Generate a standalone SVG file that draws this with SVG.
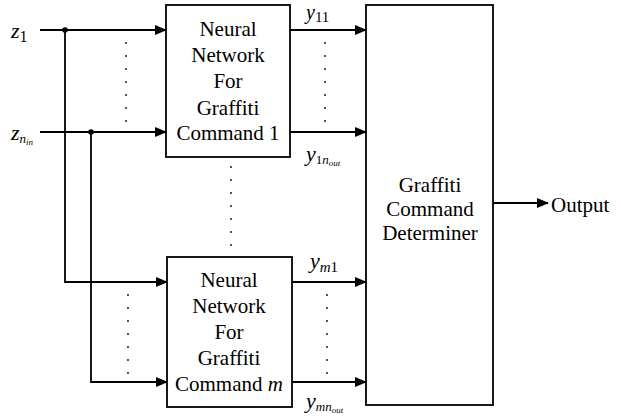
<svg xmlns="http://www.w3.org/2000/svg" width="621" height="417" viewBox="0 0 621 417">
<defs>
<marker id="arr" markerWidth="12" markerHeight="10" refX="11" refY="5" orient="auto" markerUnits="userSpaceOnUse">
<path d="M0,0 L12,5 L0,10 Z" fill="#000"/>
</marker>
<style>
.box{fill:#fff;stroke:#000;stroke-width:1.8}
.ln{fill:none;stroke:#000;stroke-width:1.8}
.dot{fill:none;stroke:#000;stroke-width:1.8;stroke-linecap:round;stroke-dasharray:0 13}
.t{font-family:"Liberation Serif","Times New Roman",serif;font-size:21px;fill:#000;text-anchor:middle}
.v{font-family:"Liberation Serif","Times New Roman",serif;font-size:22px;fill:#000;font-style:italic}
.s{font-style:normal}
</style>
</defs>
<rect width="621" height="417" fill="#fff"/>
<g id="connectors">
<path class="ln" d="M40,30 H166" marker-end="url(#arr)"/>
<path class="ln" d="M40,132 H166" marker-end="url(#arr)"/>
<path class="ln" d="M65,30 V282 H167" marker-end="url(#arr)"/>
<path class="ln" d="M91,132 V382 H167" marker-end="url(#arr)"/>
<circle cx="65" cy="30" r="2.8" fill="#000"/>
<circle cx="91" cy="132" r="2.8" fill="#000"/>
<path class="ln" d="M290,30 H366" marker-end="url(#arr)"/>
<path class="ln" d="M290,132 H366" marker-end="url(#arr)"/>
<path class="ln" d="M292,282 H366" marker-end="url(#arr)"/>
<path class="ln" d="M292,382 H366" marker-end="url(#arr)"/>
<path class="ln" d="M493,203 H548" marker-end="url(#arr)"/>
<path class="dot" d="M126,43 V122"/>
<path class="dot" d="M128,295 V374"/>
<path class="dot" d="M325,43 V122"/>
<path class="dot" d="M327,295 V374"/>
<path class="dot" d="M231,167 V246"/>
</g>
<g id="nn1">
<rect class="box" x="166" y="5" width="124" height="152"/>
<text class="t" x="228" y="36">Neural</text>
<text class="t" x="228" y="62">Network</text>
<text class="t" x="228" y="88">For</text>
<text class="t" x="228" y="115">Graffiti</text>
<text class="t" x="228" y="140">Command 1</text>
</g>
<g id="nnm">
<rect class="box" x="167" y="257" width="125" height="150"/>
<text class="t" x="229" y="287">Neural</text>
<text class="t" x="229" y="313">Network</text>
<text class="t" x="229" y="339">For</text>
<text class="t" x="229" y="365">Graffiti</text>
<text class="t" x="229" y="391">Command <tspan font-style="italic">m</tspan></text>
</g>
<g id="determiner">
<rect class="box" x="366" y="5" width="127" height="400"/>
<text class="t" x="430" y="192">Graffiti</text>
<text class="t" x="430" y="216">Command</text>
<text class="t" x="430" y="240">Determiner</text>
</g>
<g id="output">
<text class="t" x="551" y="212" style="text-anchor:start">Output</text>
</g>
<g id="labels">
<text class="v" x="11" y="38">z<tspan class="s" font-size="16" dy="4">1</tspan></text>
<text class="v" x="11" y="140">z<tspan font-size="13" dy="3">n</tspan><tspan font-size="9" dy="2">in</tspan></text>
<text class="v" x="306" y="19" style="font-size:20px">y<tspan class="s" font-size="15" dy="3">11</tspan></text>
<text class="v" x="306" y="161">y<tspan class="s" font-size="13" dy="3">1</tspan><tspan font-size="13">n</tspan><tspan font-size="9" dy="2">out</tspan></text>
<text class="v" x="310" y="268">y<tspan font-size="15" dy="4">m</tspan><tspan class="s" font-size="15">1</tspan></text>
<text class="v" x="306" y="408">y<tspan font-size="13" dy="3">mn</tspan><tspan font-size="9" dy="2">out</tspan></text>
</g>
</svg>
